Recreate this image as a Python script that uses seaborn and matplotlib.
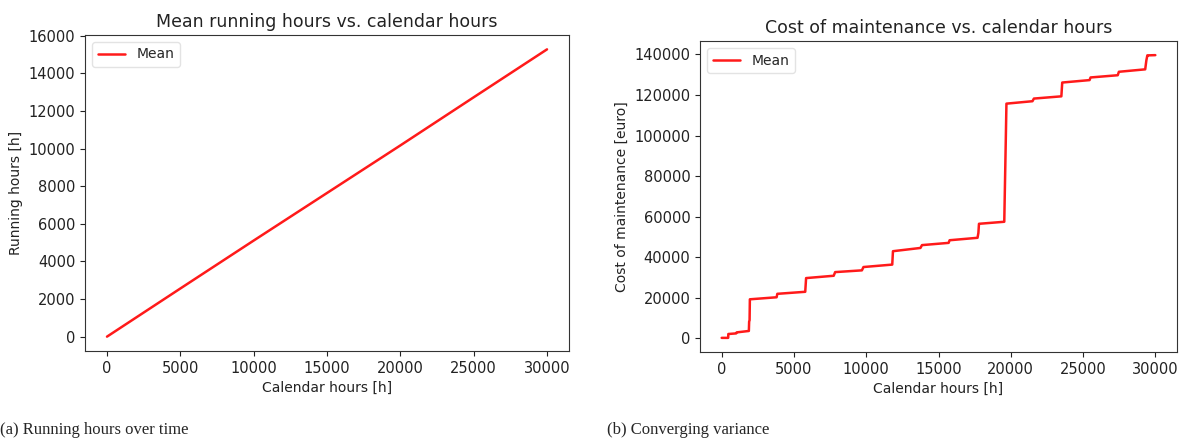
import matplotlib
matplotlib.use("Agg")
import matplotlib.pyplot as plt
import seaborn as sns
import pandas as pd

# Left panel: mean running hours vs calendar hours
run_hours = [0, 5000, 10000, 15000, 20000, 25000, 30000]
run_values = [0, 2560, 5110, 7640, 10170, 12730, 15280]

# Right panel: cost of maintenance (step-like mean curve)
cost_hours = [0, 450, 460, 1000, 1040, 1880, 1900, 1930, 1950,
              3800, 3850, 5780, 5840, 7750, 7850, 9700, 9810,
              11800, 11850, 13750, 13860, 15700, 15770, 17700, 17760, 17800,
              19550, 19600, 19650, 19700, 21500, 21600, 23500, 23560,
              25450, 25520, 27400, 27480, 29300, 29380, 29450, 29550, 30000]
cost_values = [300, 300, 2200, 2500, 3000, 3700, 8300, 9000, 19300,
               20300, 22000, 23000, 29750, 30900, 32700, 33560, 35200,
               36400, 43000, 44600, 46000, 47100, 48400, 49600, 52000, 56500,
               57500, 76800, 95900, 115700, 116900, 118200, 119300, 126100,
               127300, 128600, 129700, 131400, 132600, 137000, 139500, 139500, 139600]

titles = ["Mean running hours vs. calendar hours", "Cost of maintenance vs. calendar hours"]
ylabels = ["Running hours [h]", "Cost of maintenance [euro]"]
xlabel = "Calendar hours [h]"
captions = ["(a) Running hours over time", "(b) Converging variance"]

sns.set_style("ticks")
plt.rcParams['font.family'] = ['DejaVu Sans']

fig = plt.figure(figsize=(11.79, 4.4), dpi=100)
ax1 = fig.add_axes([85/1179, 1-351/440, (569-85)/1179, (351-35)/440])
ax2 = fig.add_axes([700/1179, 1-352/440, (1177-700)/1179, (352-41)/440])

df1 = pd.DataFrame({"hours": run_hours, "value": run_values})
df2 = pd.DataFrame({"hours": cost_hours, "value": cost_values})

sns.lineplot(data=df1, x="hours", y="value", ax=ax1, color="#ff1a1a", lw=1.8,
             label="Mean", estimator=None, sort=False)
sns.lineplot(data=df2, x="hours", y="value", ax=ax2, color="#ff1a1a", lw=1.8,
             label="Mean", estimator=None, sort=False)

for ax, t, yl in zip([ax1, ax2], titles, ylabels):
    ax.set_title(t, fontsize=12.5, color="#222222")
    ax.set_xlabel(xlabel, fontsize=10, color="#222222")
    ax.set_ylabel(yl, fontsize=10, color="#222222")
    ax.tick_params(labelsize=10.5, colors="#222222")
    ax.set_xticks([0, 5000, 10000, 15000, 20000, 25000, 30000])
    for s in ax.spines.values():
        s.set_visible(True)
        s.set_color("#333333")
    leg = ax.legend(loc="upper left", fontsize=10)
    leg.get_frame().set_edgecolor("#dddddd")

ax1.set_yticks(range(0, 16001, 2000))
ax2.set_yticks(range(0, 140001, 20000))

fig.text(0.0, 1-430/440, captions[0], family="Liberation Serif", fontsize=12, va="center")
fig.text(607/1179, 1-430/440, captions[1], family="Liberation Serif", fontsize=12, va="center")

fig.savefig("out.png", dpi=100)
